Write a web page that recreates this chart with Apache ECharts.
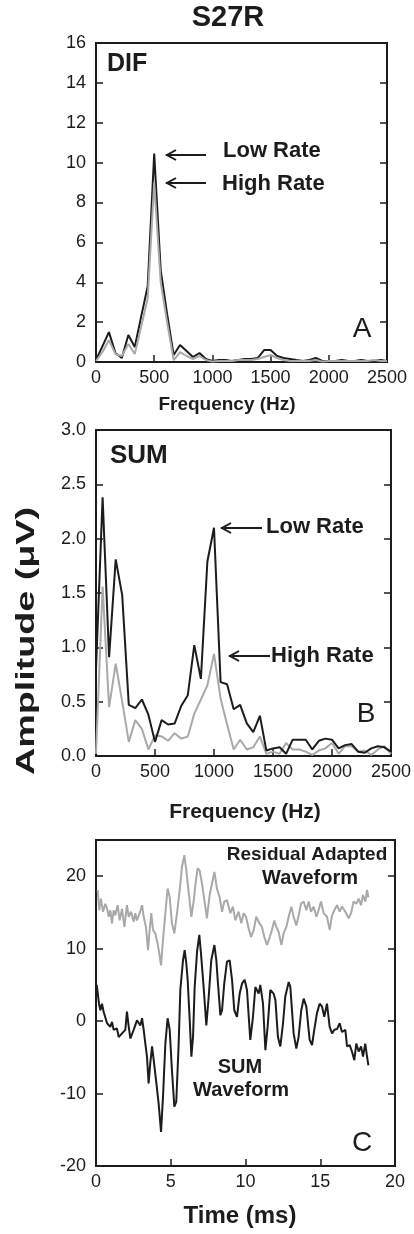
<!DOCTYPE html>
<html>
<head>
<meta charset="utf-8">
<script src="https://cdn.jsdelivr.net/npm/echarts@6/dist/echarts.min.js"></script>
<style>
html,body{margin:0;padding:0;background:#fff;}
#c{width:414px;height:1234px;}
</style>
</head>
<body>
<div id="c"></div>
<script>
// ---------- DATA ----------
var freqHz = [0,56,111,167,222,278,333,389,444,500,556,611,667,722,778,833,889,944,1000,1056,1111,1167,1222,1278,1333,1389,1444,1500,1556,1611,1667,1722,1778,1833,1889,1944,2000,2056,2111,2167,2222,2278,2333,2389,2444,2500];

var difLowRate  = [0.1,0.8,1.5,0.45,0.2,1.35,0.75,2.3,3.8,10.45,4.6,2.4,0.35,0.85,0.55,0.25,0.45,0.15,0.05,0.1,0.1,0.05,0.1,0.15,0.15,0.2,0.6,0.6,0.3,0.2,0.15,0.1,0.05,0.1,0.2,0.05,0.05,0.05,0.1,0.05,0.05,0.1,0.05,0.05,0.1,0.05];
var difHighRate = [0.05,0.5,1.1,0.4,0.3,0.9,0.4,1.8,3.2,9.0,4.0,2.0,0.1,0.5,0.3,0.15,0.3,0.1,0.02,0.05,0.05,0.05,0.1,0.1,0.1,0.15,0.25,0.35,0.2,0.1,0.05,0.05,0.05,0.05,0.1,0.02,0.05,0.05,0.05,0.05,0.05,0.05,0.05,0.1,0.05,0.05];

var sumLowRate  = [0.8,2.38,0.91,1.81,1.48,0.47,0.44,0.52,0.38,0.13,0.33,0.29,0.30,0.46,0.56,1.02,0.71,1.79,2.10,0.68,0.66,0.43,0.47,0.30,0.22,0.37,0.05,0.07,0.08,0.02,0.15,0.15,0.15,0.06,0.14,0.16,0.15,0.07,0.10,0.11,0.04,0.03,0.07,0.09,0.08,0.04];
var sumHighRate = [0.02,1.56,0.45,0.85,0.5,0.13,0.33,0.25,0.06,0.19,0.18,0.14,0.21,0.16,0.18,0.39,0.52,0.65,0.94,0.53,0.29,0.06,0.15,0.06,0.08,0.18,0.02,0.04,0.02,0.12,0.06,0.06,0.04,0.01,0.05,0.07,0.12,0.02,0.09,0.09,0.04,0.05,0.01,0.06,0.09,0.02];

var sumWaveTime = [0.05,0.20,0.29,0.40,0.51,0.62,0.74,0.96,1.07,1.18,1.40,1.52,1.74,1.96,2.07,2.19,2.30,2.52,2.74,2.97,3.08,3.19,3.30,3.41,3.52,3.63,3.75,3.86,4.04,4.19,4.35,4.48,4.64,4.79,4.93,5.08,5.24,5.37,5.53,5.64,5.82,5.93,6.04,6.13,6.27,6.38,6.49,6.60,6.76,6.91,7.02,7.20,7.38,7.54,7.71,7.92,8.05,8.14,8.32,8.43,8.58,8.76,8.94,9.10,9.25,9.43,9.61,9.77,9.94,10.10,10.32,10.50,10.66,10.88,10.99,11.17,11.33,11.48,11.66,11.88,12.00,12.17,12.33,12.51,12.66,12.89,13.00,13.22,13.40,13.55,13.73,13.89,14.07,14.29,14.45,14.60,14.78,14.96,15.12,15.27,15.45,15.63,15.79,15.94,16.12,16.30,16.45,16.68,16.79,16.97,17.12,17.28,17.41,17.57,17.73,17.86,18.01,18.13,18.22];
var sumWaveAmp  = [5.0,2.4,1.5,2.4,1.3,1.1,-0.3,-0.8,-0.1,-1.2,-1.0,-2.2,-1.7,-1.2,1.3,-0.8,-2.4,-1.2,0.1,-0.6,0.4,-1.2,-3.1,-4.9,-8.6,-5.8,-3.5,-5.4,-8.6,-11.4,-15.3,-10.5,-3.1,0.4,-1.2,-6.8,-11.8,-11.1,-3.1,4.3,8.4,9.8,8.0,5.7,0.1,-4.9,-2.2,4.7,9.6,11.9,9.4,4.7,-0.6,3.4,8.4,10.5,8.4,5.7,0.8,1.5,5.2,8.2,8.4,5.7,1.5,0.6,3.8,5.2,5.7,4.3,-2.6,0.6,4.7,3.8,5.0,2.4,-4.0,-0.8,4.3,3.8,2.9,-2.2,-3.5,-0.3,3.4,5.4,4.7,-1.7,-3.8,-2.2,1.5,3.1,2.0,-2.6,-3.3,-1.2,1.1,2.4,2.0,0.6,2.4,-0.8,-1.7,-1.2,-1.1,-0.3,-1.5,-1.2,-3.5,-3.3,-4.2,-5.4,-3.1,-4.2,-3.5,-4.9,-3.1,-4.9,-6.1];

var residualTime = [0.11,0.22,0.33,0.47,0.62,0.74,0.85,0.96,1.07,1.18,1.29,1.45,1.58,1.74,1.90,2.07,2.19,2.34,2.52,2.63,2.74,2.92,3.08,3.19,3.34,3.48,3.59,3.70,3.81,3.97,4.12,4.24,4.35,4.48,4.64,4.79,4.93,5.08,5.24,5.42,5.60,5.75,5.91,6.04,6.20,6.38,6.53,6.67,6.80,6.93,7.09,7.25,7.42,7.60,7.76,7.92,8.09,8.27,8.43,8.58,8.76,8.99,9.16,9.32,9.54,9.72,9.88,10.03,10.21,10.37,10.55,10.72,10.88,11.10,11.26,11.44,11.62,11.77,11.93,12.06,12.22,12.40,12.55,12.73,12.89,13.07,13.22,13.40,13.56,13.71,13.89,14.07,14.23,14.38,14.56,14.74,14.89,15.05,15.23,15.45,15.63,15.79,15.94,16.12,16.30,16.45,16.68,16.90,17.06,17.23,17.41,17.57,17.73,17.86,18.02,18.13,18.22];
var residualAmp  = [18.1,15.3,16.9,15.1,16.2,15.5,14.4,15.3,13.5,15.3,14.6,16.0,13.9,15.5,13.0,16.0,14.4,15.1,13.7,14.9,13.9,14.9,16.0,14.4,13.0,9.8,12.6,14.9,12.6,12.1,10.7,9.3,7.7,11.2,14.9,18.3,17.1,13.5,12.1,14.9,18.1,21.3,22.9,20.8,17.8,14.4,16.5,19.2,21.1,20.8,19.0,16.7,14.2,17.4,19.0,20.6,18.3,17.1,15.1,16.5,16.7,14.9,15.8,13.9,15.1,13.5,14.9,14.4,12.8,11.6,12.6,14.4,13.7,13.0,11.6,10.5,11.6,12.6,13.9,13.0,12.3,10.5,12.1,13.0,14.4,15.8,14.4,13.2,14.6,16.2,16.5,15.3,16.5,15.1,15.8,14.4,15.3,16.5,14.9,14.4,12.6,14.6,15.3,16.0,15.1,15.8,15.1,14.2,14.9,16.5,16.2,16.9,16.0,17.4,16.5,18.1,17.1];

var freqTicks = {min:0, max:2500, interval:500};
var difTicks  = {min:0, max:16, interval:2};
var sumTicks  = {min:0, max:3, interval:0.5};
var timeTicks = {min:0, max:20, interval:5};
var waveTicks = {min:-20, max:25, interval:10};

// ---------- STYLE ----------
var FONT = '"Liberation Sans", Arial, Helvetica, sans-serif';
var INK = '#1c1c1c';
var GRAY = '#a9a9a9';
function pairs(xs, ys){ return xs.map(function(x,i){ return [x, ys[i]]; }); }

var grids = [
  {left:96, top:43, width:291, height:319},
  {left:96, top:430, width:300, height:326},
  {left:96, top:840, width:299, height:326}
];
grids.forEach(function(g){ g.show = true; g.borderColor = INK; g.borderWidth = 2; g.backgroundColor = 'transparent'; });

var f0 = function(v){ return String(v); };
var f1 = function(v){ return v.toFixed(1); };

function xAx(gi, t){
  return {gridIndex:gi, type:'value', min:t.min, max:t.max, interval:t.interval,
    axisLine:{show:true, onZero:false, lineStyle:{color:INK, width:2}},
    axisTick:{show:true, inside:true, length:7, lineStyle:{color:INK, width:1.5}},
    axisLabel:{color:INK, fontSize:18, fontFamily:FONT, margin:7, formatter:f0},
    splitLine:{show:false}};
}
function yAx(gi, t, fmt, right){
  return {gridIndex:gi, type:'value', min:t.min, max:t.max, interval:t.interval,
    position: right ? 'right' : 'left',
    axisLine:{show:true, onZero:false, lineStyle:{color:INK, width:2}},
    axisTick:{show:true, inside:true, length:7, lineStyle:{color:INK, width:1.5}},
    axisLabel:{show:!right, color:INK, fontSize:18, fontFamily:FONT, margin:10, showMaxLabel: (t.max % t.interval === 0),
      formatter: fmt},
    splitLine:{show:false}};
}

function line(xi, yi, data, color, z){
  return {type:'line', xAxisIndex:xi, yAxisIndex:yi, data:data, showSymbol:false, symbol:'none',
    lineStyle:{color:color, width:2}, itemStyle:{color:color}, z:z, animation:false};
}

function txt(x, y, s, size, bold, fill, align){
  return {type:'text', x:x, y:y, z:100, style:{text:s, font:(bold?'bold ':'')+size+'px '+FONT,
    fill:fill||INK, align:align||'center', verticalAlign:'middle'}};
}
function arrow(x1, x2, y){
  return {type:'group', z:100, children:[
    {type:'line', shape:{x1:x1, y1:y, x2:x2, y2:y}, style:{stroke:INK, lineWidth:2}},
    {type:'polyline', shape:{points:[[x1+10,y-5],[x1+1,y],[x1+10,y+5]]}, style:{stroke:INK, lineWidth:2, fill:null}}
  ]};
}

var option = {
  animation:false,
  backgroundColor:'#fff',
  grid: grids,
  xAxis: [xAx(0,freqTicks), xAx(1,freqTicks), xAx(2,timeTicks)],
  yAxis: [yAx(0,difTicks,f0,false), yAx(0,difTicks,f0,true),
          yAx(1,sumTicks,f1,false), yAx(1,sumTicks,f1,true),
          yAx(2,waveTicks,f0,false), yAx(2,waveTicks,f0,true)],
  series: [
    line(0,0,pairs(freqHz,difLowRate),INK,3),
    line(0,0,pairs(freqHz,difHighRate),GRAY,4),
    line(1,2,pairs(freqHz,sumHighRate),GRAY,3),
    line(1,2,pairs(freqHz,sumLowRate),INK,4),
    line(2,4,pairs(residualTime,residualAmp),GRAY,3),
    line(2,4,pairs(sumWaveTime,sumWaveAmp),INK,4)
  ],
  graphic: [
    txt(228, 18, 'S27R', 29, true),
    txt(107, 64, 'DIF', 25, true, INK, 'left'),
    txt(223, 151, 'Low Rate', 22, true, INK, 'left'),
    txt(222, 184, 'High Rate', 22, true, INK, 'left'),
    arrow(166, 206, 155),
    arrow(166, 206, 183),
    txt(362, 329, 'A', 28, false),
    txt(227, 405, 'Frequency (Hz)', 19, true),

    txt(110, 456, 'SUM', 26, true, INK, 'left'),
    txt(266, 527, 'Low Rate', 22, true, INK, 'left'),
    txt(271, 656, 'High Rate', 22, true, INK, 'left'),
    arrow(221, 262, 528),
    arrow(229, 270, 656),
    txt(366, 714, 'B', 28, false),
    txt(245, 812, 'Frequency (Hz)', 21, true),

    txt(307, 855, 'Residual Adapted', 19, true),
    txt(310, 878, 'Waveform', 20, true),
    txt(240, 1067, 'SUM', 20, true),
    txt(241, 1090, 'Waveform', 20, true),
    txt(362, 1143, 'C', 28, false),
    txt(240, 1216, 'Time (ms)', 24, true),

    {type:'text', x:27, y:641, rotation:Math.PI/2, scaleX:1.45, scaleY:1, z:100,
      style:{text:'Amplitude (\u03BCV)', font:'bold 26px '+FONT, fill:INK, align:'center', verticalAlign:'middle'}}
  ]
};

var chart = echarts.init(document.getElementById('c'), null, {renderer:'canvas', devicePixelRatio:1});
chart.setOption(option);
</script>
</body>
</html>
